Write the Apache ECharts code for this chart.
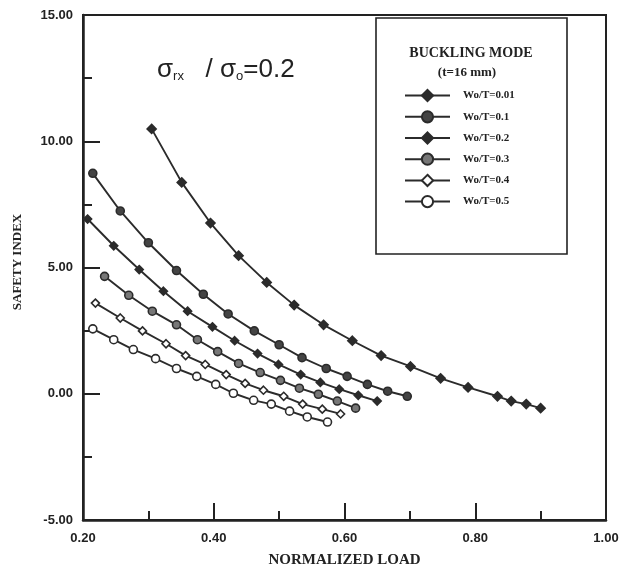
<!DOCTYPE html>
<html>
<head>
<meta charset="utf-8">
<title>Safety index</title>
<script src="https://cdn.jsdelivr.net/npm/echarts@6/dist/echarts.min.js"></script>
<style>
	html,body{margin:0;padding:0;background:#fff;}
	#chart{width:633px;height:573px;}
</style>
</head>
<body>
<div id="chart"></div>
<script>
// normalized load / safety index
var seriesNames = ['Wo/T=0.01','Wo/T=0.1','Wo/T=0.2','Wo/T=0.3','Wo/T=0.4','Wo/T=0.5'];

var load001 = [0.305,0.351,0.395,0.438,0.481,0.523,0.568,0.612,0.656,0.701,0.747,0.789,0.834,0.855,0.878,0.900];
var si001   = [10.49,8.37,6.76,5.47,4.41,3.51,2.73,2.10,1.51,1.08,0.61,0.25,-0.10,-0.29,-0.41,-0.57];

var load01 = [0.215,0.257,0.300,0.343,0.384,0.422,0.462,0.500,0.535,0.572,0.604,0.635,0.666,0.696];
var si01   = [8.73,7.24,5.98,4.88,3.94,3.16,2.49,1.94,1.43,1.00,0.69,0.37,0.10,-0.10];

var load02 = [0.207,0.247,0.286,0.323,0.360,0.398,0.432,0.467,0.499,0.533,0.563,0.592,0.621,0.650];
var si02   = [6.92,5.86,4.92,4.06,3.27,2.65,2.10,1.59,1.16,0.76,0.45,0.18,-0.06,-0.29];

var load03 = [0.233,0.270,0.306,0.343,0.375,0.406,0.438,0.471,0.502,0.531,0.560,0.589,0.617];
var si03   = [4.65,3.90,3.27,2.73,2.14,1.67,1.20,0.84,0.53,0.22,-0.02,-0.29,-0.57];

var load04 = [0.219,0.257,0.291,0.327,0.357,0.387,0.419,0.448,0.476,0.507,0.536,0.566,0.594];
var si04   = [3.59,3.00,2.49,1.98,1.51,1.16,0.76,0.41,0.14,-0.10,-0.41,-0.61,-0.80];

var load05 = [0.215,0.247,0.277,0.311,0.343,0.374,0.403,0.430,0.461,0.488,0.516,0.543,0.574];
var si05   = [2.57,2.14,1.75,1.39,1.00,0.69,0.37,0.02,-0.26,-0.41,-0.69,-0.92,-1.12];

var xTicks = {min:0.2,max:1.0,interval:0.2};
var yTicks = {min:-5,max:15,interval:5};

function pairs(xs,ys){
	var out = [];
	for(var i=0;i<xs.length;i++){
		out.push([xs[i],ys[i]]);
	}
	return out;
}

function makeSeries(name,xs,ys,symbol,size,fill){
	return {
		name:name,
		type:'line',
		data:pairs(xs,ys),
		symbol:symbol,
		symbolSize:size,
		showSymbol:true,
		lineStyle:{color:'#2b2b2b',width:1.9},
		itemStyle:{color:fill,borderColor:'#2b2b2b',borderWidth:1.6},
		emphasis:{disabled:true},
		animation:false
	};
}

function drawChart(){
	var myChart = echarts.init(document.getElementById('chart'));
	var boldSans = 'Liberation Sans';
	var serif = 'Liberation Serif';
	var option = {
		backgroundColor:'#ffffff',
		animation:false,
		grid:{left:83,top:15,right:27,bottom:50,show:true,borderColor:'#222',borderWidth:2,backgroundColor:'transparent'},
		xAxis:{
			type:'value',
			min:xTicks.min,max:xTicks.max,interval:xTicks.interval,
			name:'NORMALIZED LOAD',
			nameLocation:'middle',
			nameGap:33,
			nameTextStyle:{fontFamily:serif,fontWeight:'bold',fontSize:15,color:'#222'},
			axisLine:{show:true,onZero:false,lineStyle:{color:'#222',width:2.5}},
			axisTick:{show:true,inside:true,length:17,lineStyle:{color:'#222',width:2}},
			minorTick:{show:true,splitNumber:2,length:9,lineStyle:{color:'#222',width:2}},
			splitLine:{show:false},
			axisLabel:{margin:12,fontFamily:boldSans,fontWeight:'bold',fontSize:13,color:'#222',
				formatter:function(v){return v.toFixed(2);}}
		},
		yAxis:{
			type:'value',
			min:yTicks.min,max:yTicks.max,interval:yTicks.interval,
			axisLine:{show:true,onZero:false,lineStyle:{color:'#222',width:2.5}},
			axisTick:{show:true,inside:true,length:17,lineStyle:{color:'#222',width:2}},
			minorTick:{show:true,splitNumber:2,length:9,lineStyle:{color:'#222',width:2}},
			splitLine:{show:false},
			axisLabel:{margin:10,fontFamily:boldSans,fontWeight:'bold',fontSize:13,color:'#222',
				formatter:function(v){return v.toFixed(2);}}
		},
		legend:{
			orient:'vertical',
			left:399,
			top:84,
			itemWidth:45,
			itemHeight:14,
			itemGap:8,
			data:seriesNames,
			textStyle:{fontFamily:serif,fontWeight:'bold',fontSize:11,color:'#222',padding:[0,0,0,8]},
			selectedMode:false
		},
		graphic:[
			{type:'rect',shape:{x:376,y:18,width:191,height:236},style:{fill:'#fff',stroke:'#222',lineWidth:1.6},z:-1},
			{type:'text',x:471,y:53,style:{text:'BUCKLING MODE',font:'bold 14px "Liberation Serif"',fill:'#222',textAlign:'center',textVerticalAlign:'middle'}},
			{type:'text',x:467,y:73,style:{text:'(t=16 mm)',font:'bold 13px "Liberation Serif"',fill:'#222',textAlign:'center',textVerticalAlign:'middle'}},
			{type:'text',x:18,y:262,rotation:Math.PI/2,style:{text:'SAFETY INDEX',font:'bold 13px "Liberation Serif"',fill:'#222',textAlign:'center',textVerticalAlign:'middle'}},
			// sigma ratio note
			{type:'text',x:157,y:53,style:{
				text:'{a|σ}{s|rx}{a|   / σ}{s|o}{a|=0.2}',
				fill:'#222',
				rich:{
					a:{fontFamily:boldSans,fontSize:26,color:'#222',verticalAlign:'bottom',lineHeight:30},
					s:{fontFamily:boldSans,fontSize:13,color:'#222',verticalAlign:'bottom',lineHeight:24}
				}
			}}
		],
		series:[
			makeSeries(seriesNames[0],load001,si001,'diamond',9,'#2b2b2b'),
			makeSeries(seriesNames[1],load01,si01,'circle',8,'#444'),
			makeSeries(seriesNames[2],load02,si02,'diamond',8,'#2b2b2b'),
			makeSeries(seriesNames[3],load03,si03,'circle',8,'#777'),
			makeSeries(seriesNames[4],load04,si04,'diamond',8,'#fff'),
			makeSeries(seriesNames[5],load05,si05,'circle',8,'#fff')
		]
	};
	myChart.setOption(option);
}

drawChart();
</script>
</body>
</html>
